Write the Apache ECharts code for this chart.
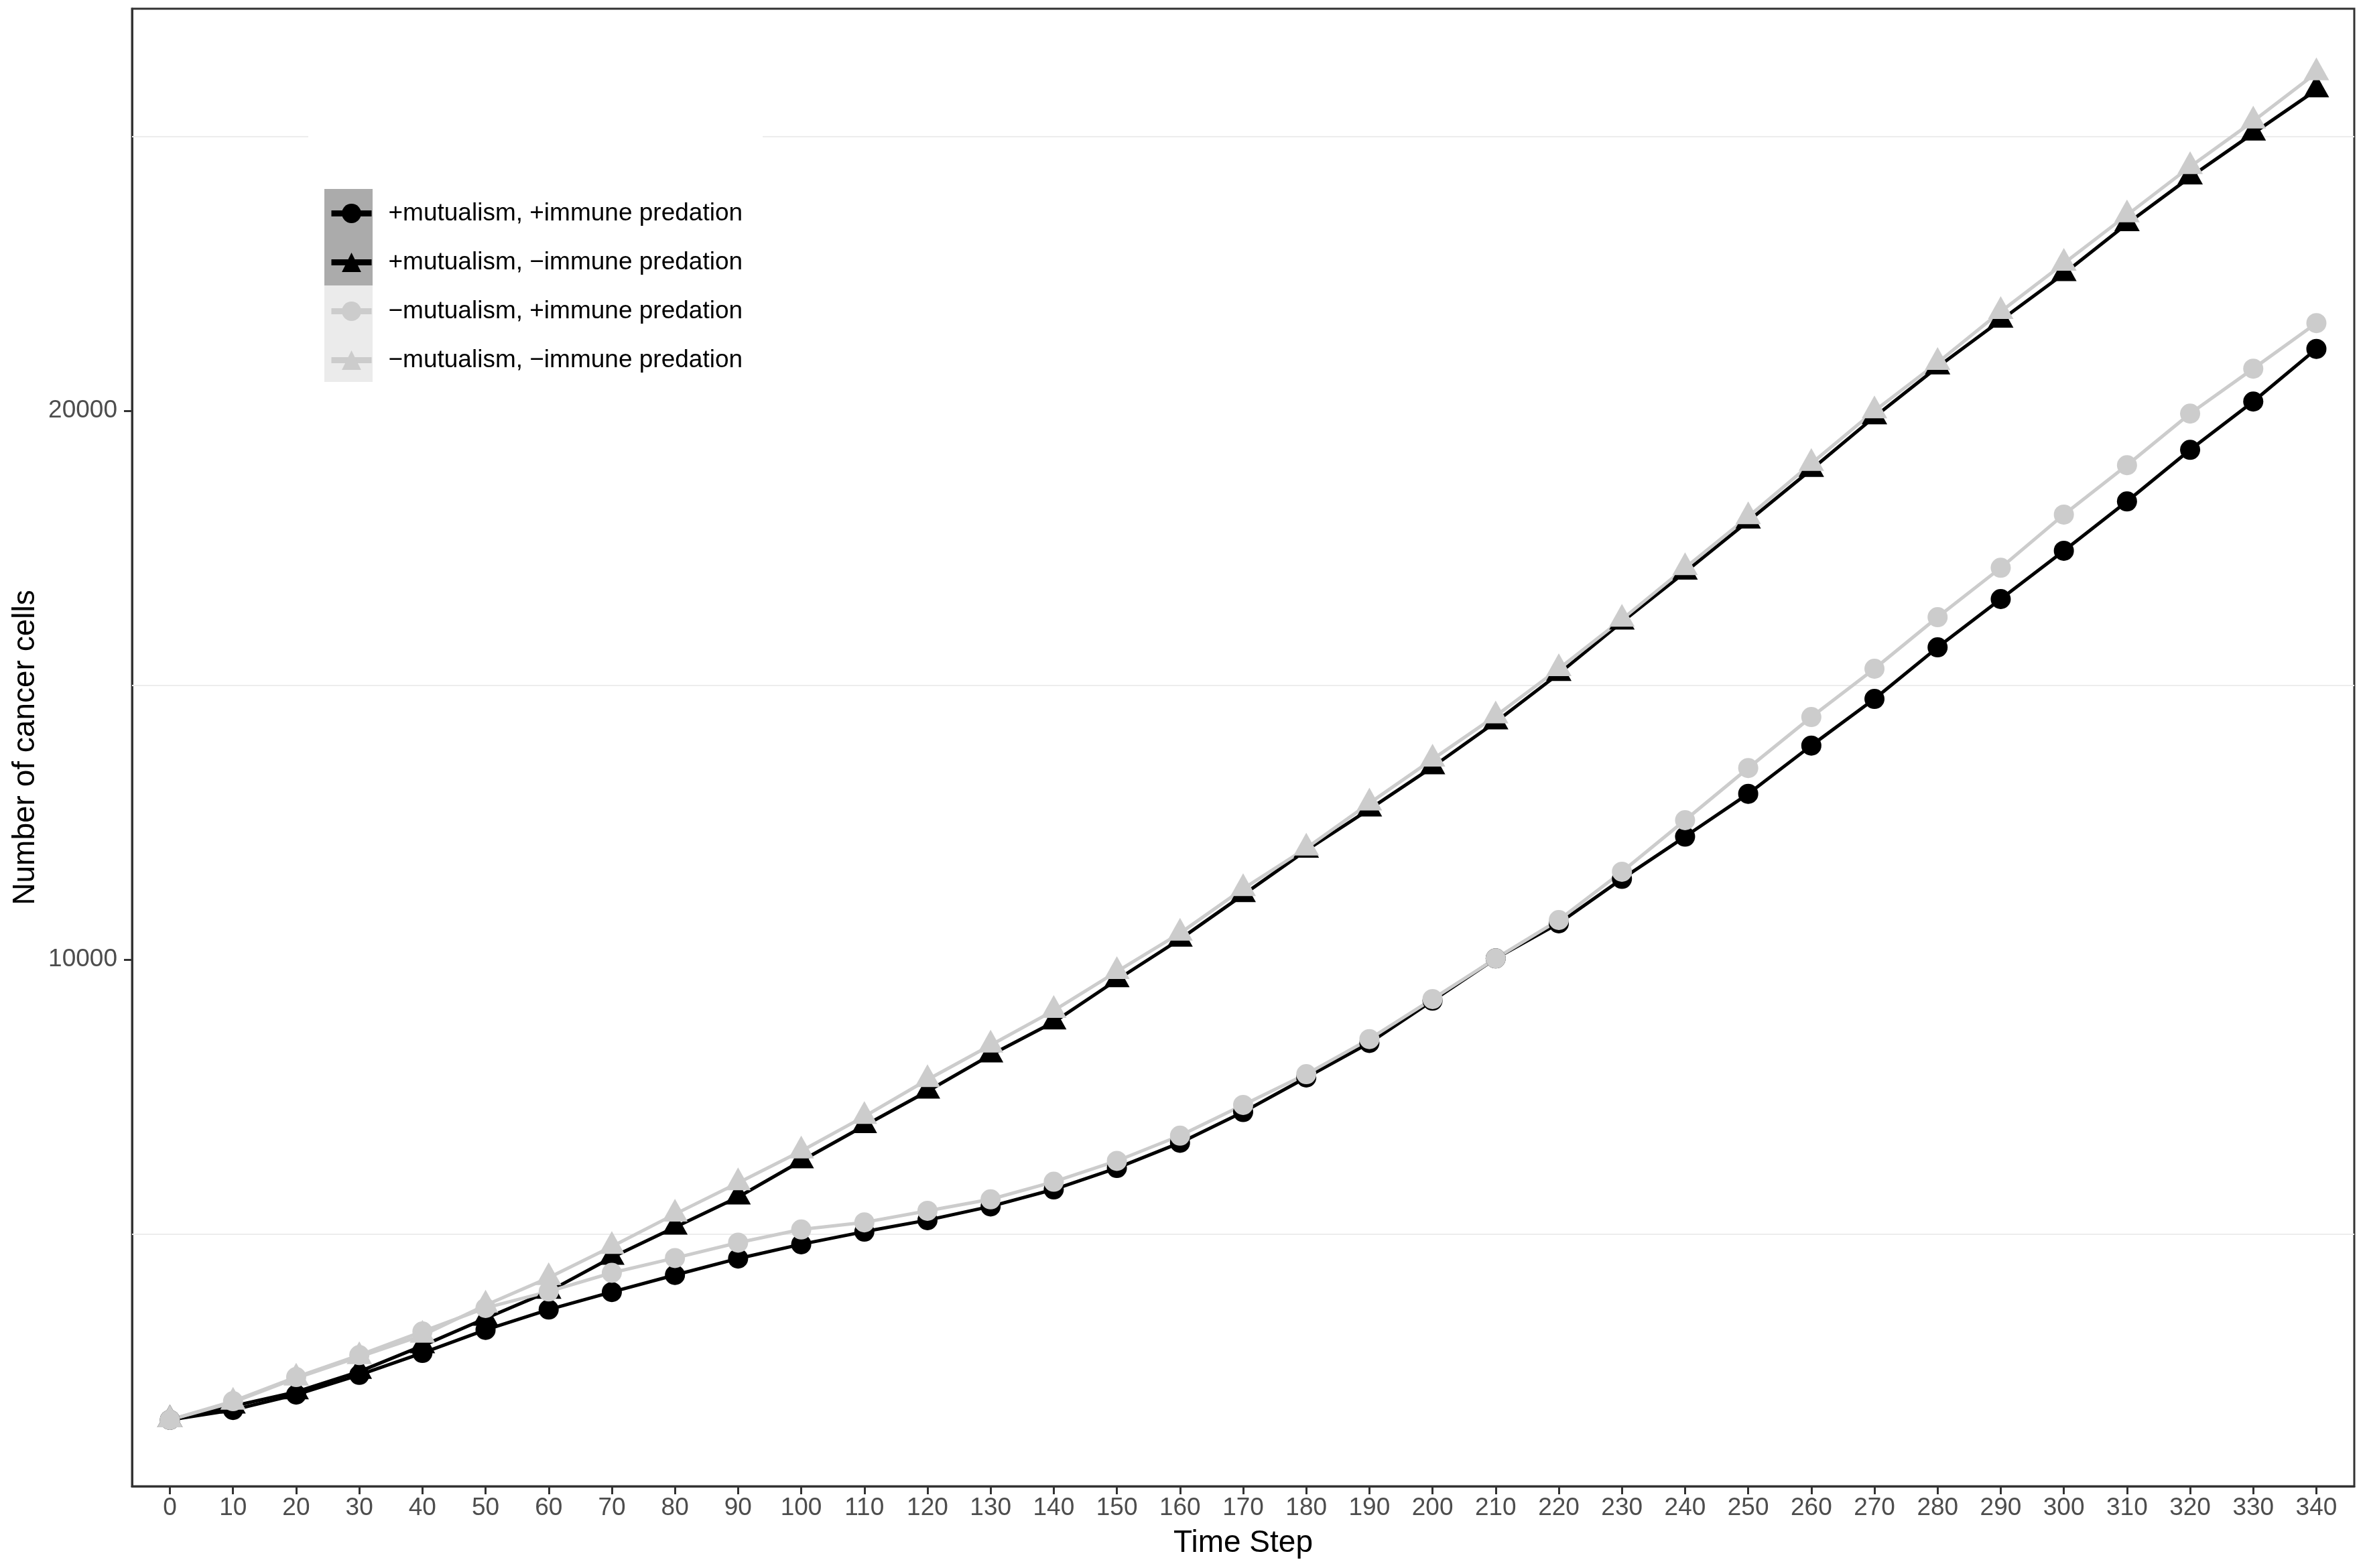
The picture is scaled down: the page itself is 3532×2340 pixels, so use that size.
<!DOCTYPE html>
<html><head><meta charset="utf-8">
<script src="https://cdn.jsdelivr.net/npm/echarts@6/dist/echarts.min.js"></script>
<style>html,body{margin:0;padding:0;background:#fff}#c{width:3532px;height:2340px}</style>
</head><body><div id="c"></div>
<script>
// ---- data ----
const timeSteps = [0,10,20,30,40,50,60,70,80,90,100,110,120,130,140,150,160,170,180,190,200,210,220,230,240,250,260,270,280,290,300,310,320,330,340];
const seriesNames = ['+mutualism, +immune predation', '+mutualism, \u2212immune predation', '\u2212mutualism, +immune predation', '\u2212mutualism, \u2212immune predation'];
const mutImm     = [1610,1790,2070,2430,2830,3250,3620,3940,4250,4550,4810,5040,5250,5500,5810,6200,6660,7220,7850,8480,9250,10020,10660,11470,12240,13020,13900,14750,15690,16570,17450,18350,19290,20170,21130];
const mutNoImm   = [1610,1860,2120,2490,2960,3460,3950,4570,5120,5670,6330,6970,7600,8260,8860,9630,10370,11180,11990,12740,13510,14330,15210,16150,17060,17990,18930,19890,20800,21650,22500,23410,24260,25060,25850];
const noMutImm   = [1610,1950,2390,2790,3220,3650,3950,4290,4560,4840,5080,5210,5420,5630,5950,6330,6790,7350,7910,8550,9280,10020,10720,11600,12540,13490,14420,15300,16240,17140,18110,19010,19950,20770,21600];
const noMutNoImm = [1610,1930,2370,2760,3150,3700,4200,4770,5360,5930,6510,7140,7810,8440,9070,9780,10480,11290,12030,12850,13650,14440,15300,16200,17140,18070,19040,20000,20880,21810,22690,23570,24450,25280,26160];
const xTickValues = timeSteps;
const yTickValues = [10000, 20000];
const minorGridValues = [5000, 15000, 25000];
const xTitle = 'Time Step';
const yTitle = 'Number of cancer cells';

// ---- styles ----
const FONT = '"Liberation Sans", Arial, Helvetica, sans-serif';
const BLACK = '#000000', GREY = '#cccccc';
const seriesDefs = [
  {vals: mutImm, color: BLACK, sym: 'circle'},
  {vals: mutNoImm, color: BLACK, sym: 'triangle'},
  {vals: noMutImm, color: GREY, sym: 'circle'},
  {vals: noMutNoImm, color: GREY, sym: 'triangle'}
];

const chart = echarts.init(document.getElementById('c'), null, {renderer: 'canvas'});

const series = seriesDefs.map((d, i) => {
  const s = {
    name: seriesNames[i],
    type: 'line',
    data: timeSteps.map((t, k) => [t, d.vals[k]]),
    symbol: d.sym,
    symbolSize: d.sym === 'circle' ? 30 : [38, 34],
    symbolOffset: d.sym === 'circle' ? [0, 0] : [0, -6],
    showSymbol: true,
    lineStyle: {color: d.color, width: 5},
    itemStyle: {color: d.color},
    emphasis: {disabled: true},
    animation: false,
    z: 2
  };
  if (i === 0) {
    s.markLine = {
      silent: true,
      symbol: ['none', 'none'],
      label: {show: false},
      lineStyle: {color: '#ededed', width: 2, type: 'solid'},
      data: minorGridValues.map(v => ({yAxis: v})),
      animation: false,
      z: 1
    };
  }
  return s;
});

const keyBg = ['#ababab', '#ababab', '#ebebeb', '#ebebeb'];
const graphics = [{type: 'rect', shape: {x: 460, y: 190, width: 678, height: 440}, style: {fill: '#ffffff'}, z: 3, silent: true}];
keyBg.forEach((c, i) => graphics.push({type: 'rect', shape: {x: 484, y: 282 + i * 72, width: 72, height: 72}, style: {fill: c}, z: 3, silent: true}));

chart.setOption({
  backgroundColor: '#ffffff',
  animation: false,
  textStyle: {fontFamily: FONT},
  grid: {left: 197, top: 13, right: 19, bottom: 122, show: true, borderColor: '#333333', borderWidth: 3, backgroundColor: 'transparent'},
  xAxis: {
    type: 'value', min: -6, max: 346,
    name: xTitle, nameLocation: 'middle', nameGap: 62,
    nameTextStyle: {fontSize: 46, color: '#000', fontFamily: FONT},
    axisLine: {show: true, onZero: false, lineStyle: {color: '#333333', width: 3}},
    axisTick: {show: true, length: 12, lineStyle: {color: '#333333', width: 3}, customValues: xTickValues},
    axisLabel: {fontSize: 37, color: '#4d4d4d', margin: 14, fontFamily: FONT, customValues: xTickValues, formatter: v => String(v)},
    splitLine: {show: false}
  },
  yAxis: {
    type: 'value', min: 400, max: 27330,
    name: yTitle, nameLocation: 'middle', nameGap: 132, nameRotate: 90,
    nameTextStyle: {fontSize: 46, color: '#000', fontFamily: FONT},
    axisLine: {show: true, onZero: false, lineStyle: {color: '#333333', width: 3}},
    axisTick: {show: true, length: 12, lineStyle: {color: '#333333', width: 3}, customValues: yTickValues},
    axisLabel: {fontSize: 37, color: '#4d4d4d', margin: 22, fontFamily: FONT, customValues: yTickValues, formatter: v => String(v)},
    splitLine: {show: false}
  },
  legend: {
    orient: 'vertical', left: 490, top: 300,
    itemWidth: 60, itemHeight: 36, itemGap: 36,
    padding: 0, backgroundColor: 'transparent', z: 10,
    selectedMode: false,
    data: seriesNames,
    lineStyle: {width: 9},
    textStyle: {fontSize: 37, color: '#000', fontFamily: FONT, padding: [0, 0, 0, 20]}
  },
  graphic: graphics,
  series: series
});
</script></body></html>
